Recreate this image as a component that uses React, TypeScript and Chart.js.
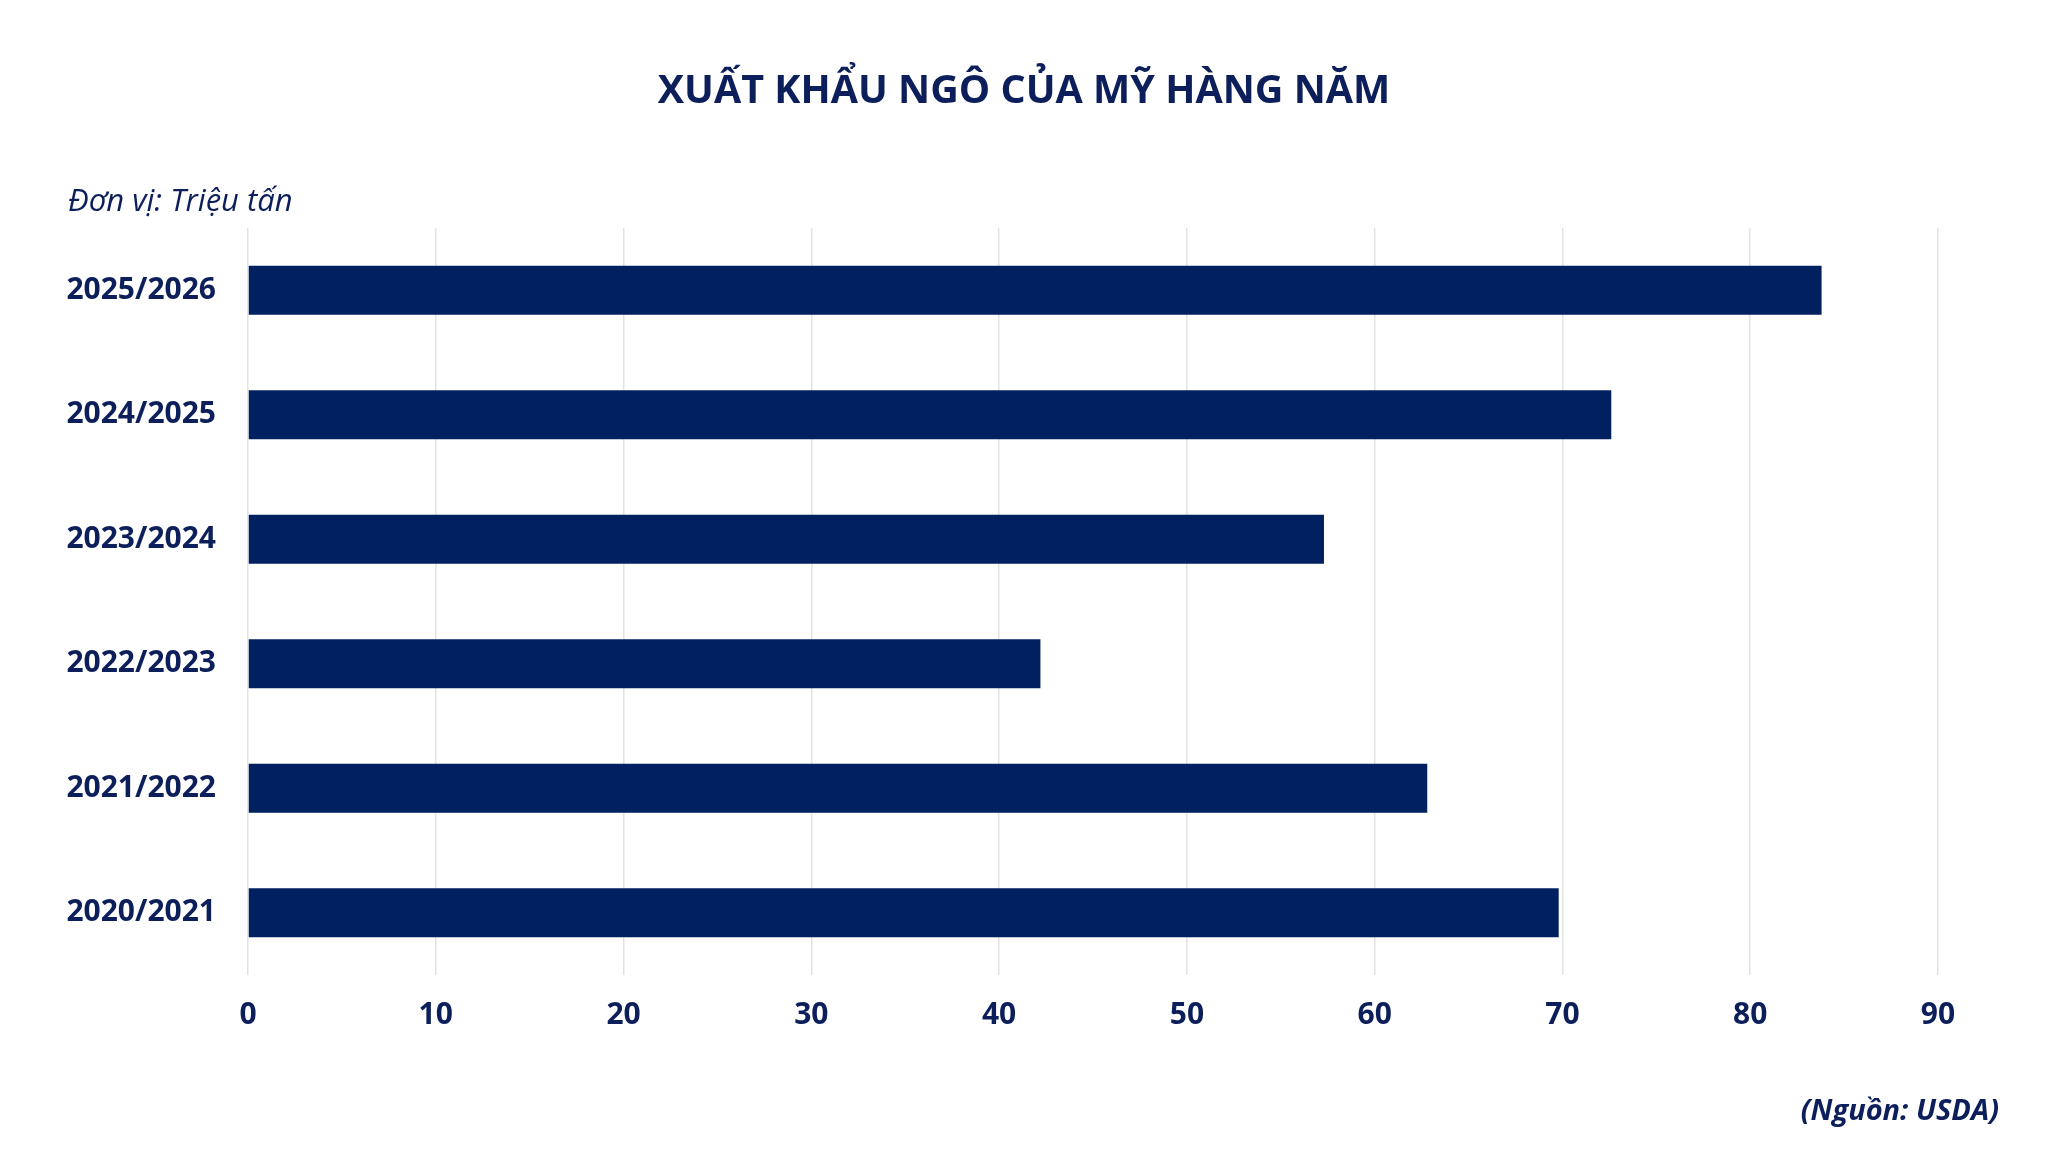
import React, { useEffect, useRef } from "react";
import Chart from "chart.js/auto";

const seasons = ["2025/2026", "2024/2025", "2023/2024", "2022/2023", "2021/2022", "2020/2021"];
const exportsMt = [83.8, 72.6, 57.3, 42.2, 62.8, 69.8];
const xTicks = [0, 10, 20, 30, 40, 50, 60, 70, 80, 90];

const titleText = "XUẤT KHẨU NGÔ CỦA MỸ HÀNG NĂM";
const unitText = "Đơn vị: Triệu tấn";
const sourceText = "(Nguồn: USDA)";

const navy = "#002060";
const textColor = "#0c1f5b";
const font = "'Open Sans', 'Noto Sans', sans-serif";

const App = () => {
    const canvasRef = useRef<HTMLCanvasElement>(null);

    useEffect(() => {
        const ctx = canvasRef.current?.getContext("2d");
        if (!ctx) return;

        const chart = new Chart(ctx, {
            type: "bar",
            data: {
                labels: seasons,
                datasets: [
                    {
                        label: "Xuất khẩu",
                        data: exportsMt,
                        backgroundColor: navy,
                        borderWidth: 0,
                        categoryPercentage: 1,
                        barPercentage: 0.393,
                    },
                ],
            },
            options: {
                indexAxis: "y",
                animation: false,
                responsive: true,
                maintainAspectRatio: false,
                layout: { padding: { left: 20, right: 102, bottom: 90, top: 220 } },
                plugins: {
                    legend: { display: false },
                    tooltip: { enabled: false },
                },
                scales: {
                    x: {
                        min: 0,
                        max: 90,
                        afterBuildTicks: (axis: any) => {
                            axis.ticks = xTicks.map((v) => ({ value: v }));
                        },
                        grid: { color: "#e3e3e3", lineWidth: 1.5, drawTicks: false },
                        border: { display: false },
                        ticks: {
                            color: textColor,
                            padding: 22,
                            font: { family: font, size: 30, weight: "bold" },
                        },
                    },
                    y: {
                        afterFit: (axis: any) => {
                            axis.width = 220;
                        },
                        grid: { display: false, drawTicks: false },
                        border: { display: false },
                        ticks: {
                            color: textColor,
                            padding: 32,
                            font: { family: font, size: 30, weight: "bold" },
                        },
                    },
                },
            },
        });

        return () => chart.destroy();
    }, []);

    return (
        <div style={{ position: "relative", width: 2032, height: 1137 }}>
            <canvas ref={canvasRef}></canvas>
            <div
                style={{
                    position: "absolute",
                    left: 0,
                    width: 2032,
                    top: 56,
                    textAlign: "center",
                    fontFamily: font,
                    fontSize: 39.5,
                    fontWeight: "bold",
                    color: textColor,
                    lineHeight: "48px",
                }}
            >
                {titleText}
            </div>
            <div
                style={{
                    position: "absolute",
                    left: 60,
                    top: 171,
                    fontFamily: font,
                    fontSize: 31,
                    fontStyle: "italic",
                    color: textColor,
                    lineHeight: "40px",
                }}
            >
                {unitText}
            </div>
            <div
                style={{
                    position: "absolute",
                    right: 41,
                    top: 1082,
                    fontFamily: font,
                    fontSize: 29,
                    fontWeight: "bold",
                    fontStyle: "italic",
                    color: textColor,
                    lineHeight: "38px",
                }}
            >
                {sourceText}
            </div>
        </div>
    );
};

export default App;
